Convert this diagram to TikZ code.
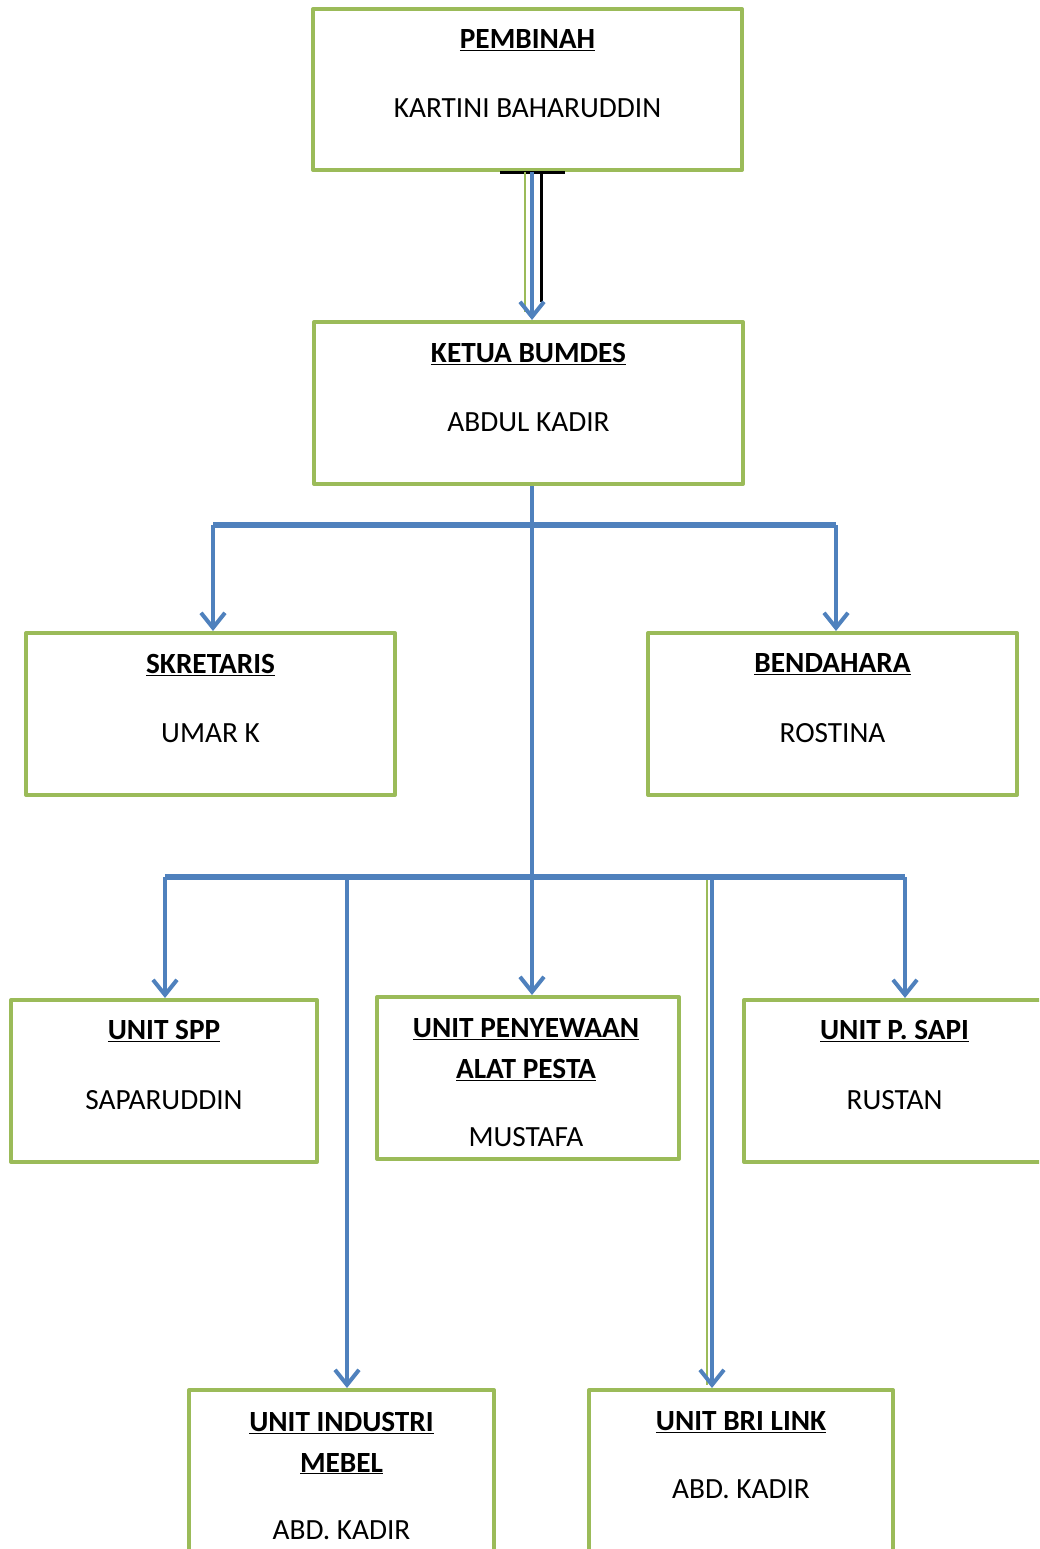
\documentclass[tikz,border=0pt]{standalone}
\usepackage{fontspec}
\setmainfont{Carlito}
\usetikzlibrary{arrows.meta}

\definecolor{boxgreen}{RGB}{155,187,89}
\definecolor{lineblue}{RGB}{79,129,189}

\begin{document}
\begin{tikzpicture}[line cap=round,line join=round, x=1pt,y=-1pt,
  box/.style={draw=boxgreen, line width=4pt, rectangle, inner sep=0pt},
  conn/.style={draw=lineblue, line width=4pt, line cap=butt, -{Straight Barb[length=15pt,width=24pt]}},
  bus/.style={draw=lineblue, line width=6pt, line cap=butt},
  ttl/.style={font=\fontsize{29.3}{41}\selectfont\bfseries, align=center},
  nm/.style={font=\fontsize{29.3}{34}\selectfont}]
\useasboundingbox (0,0) rectangle (1039,1549);
\clip (0,0) rectangle (1039,1549);
% boxes
\node[box, minimum width=429pt, minimum height=161pt] (pembinah) at (527.5,89.5) {};
\node[box, minimum width=429pt, minimum height=162pt] (ketua) at (528.5,403) {};
\node[box, minimum width=369pt, minimum height=162pt] (sekretaris) at (210.5,714) {};
\node[box, minimum width=369pt, minimum height=162pt] (bendahara) at (832.5,714) {};
\node[box, minimum width=306pt, minimum height=162pt] (spp) at (164,1081) {};
\node[box, minimum width=302pt, minimum height=162pt] (sewa) at (528,1078) {};
\node[box, minimum width=301pt, minimum height=162pt] (sapi) at (894.5,1081) {};
\node[box, minimum width=305pt, minimum height=170pt] (mebel) at (341.5,1475) {};
\node[box, minimum width=304pt, minimum height=170pt] (brilink) at (741,1475) {};
% texts
\node[ttl] (pembinahT) at (527.5,40) {\underline{PEMBINAH}};
\node[nm] (pembinahN) at (527.5,108) {KARTINI BAHARUDDIN};
\node[ttl] (ketuaT) at (528.5,354) {\underline{KETUA BUMDES}};
\node[nm] (ketuaN) at (528.5,422) {ABDUL KADIR};
\node[ttl] (sekretarisT) at (210.5,665) {\underline{SKRETARIS}};
\node[nm] (sekretarisN) at (210.5,733) {UMAR K};
\node[ttl] (bendaharaT) at (832.5,664) {\underline{BENDAHARA}};
\node[nm] (bendaharaN) at (832.5,733) {ROSTINA};
\node[ttl] (sppT) at (164,1031) {\underline{UNIT SPP}};
\node[nm] (sppN) at (164,1100) {SAPARUDDIN};
\node[ttl] (sewaT) at (526,1050) {\underline{UNIT PENYEWAAN}\\\underline{ALAT PESTA}};
\node[nm] (sewaN) at (526,1137) {MUSTAFA};
\node[ttl] (sapiT) at (894.5,1031) {\underline{UNIT P. SAPI}};
\node[nm] (sapiN) at (894.5,1100) {RUSTAN};
\node[ttl] (mebelT) at (341.5,1443) {\underline{UNIT INDUSTRI}\\\underline{MEBEL}};
\node[nm] (mebelN) at (341.5,1530) {ABD. KADIR};
\node[ttl] (brilinkT) at (741,1422) {\underline{UNIT BRI LINK}};
\node[nm] (brilinkN) at (741,1489) {ABD. KADIR};
% connectors
\coordinate (hubA) at (532,525);
\coordinate (hubB) at (532,877);
\coordinate (busAL) at (213,525);
\coordinate (busAR) at (836,525);
\coordinate (busBL) at (165,877);
\coordinate (busBR) at (905,877);
\coordinate (dropM) at (347,877);
\coordinate (dropB) at (712,877);
\draw[black, line width=3pt, line cap=butt] (500,173) -- (565,173);
\draw[black, line width=3pt, line cap=butt] (541,173) -- (541,302);
\draw[boxgreen, line width=2pt, line cap=butt] (525,172) -- (525,312);
\draw[conn] (pembinah.south -| hubA) -- (ketua.north -| hubA);
\draw[conn, -] (ketua.south -| hubA) -- (hubB);
\draw[bus] (busAL) -- (busAR);
\draw[bus] (busBL) -- (busBR);
\draw[conn] (busAL) -- (busAL |- sekretaris.north);
\draw[conn] (busAR) -- (busAR |- bendahara.north);
\draw[conn] (busBL) -- (busBL |- spp.north);
\draw[conn] (dropM) -- (dropM |- mebel.north);
\draw[conn] (hubB) -- (hubB |- sewa.north);
\draw[boxgreen, line width=2pt, line cap=butt] (707,880) -- (707,1385);
\draw[conn] (dropB) -- (dropB |- brilink.north);
\draw[conn] (busBR) -- (busBR |- sapi.north);
\end{tikzpicture}
\end{document}
